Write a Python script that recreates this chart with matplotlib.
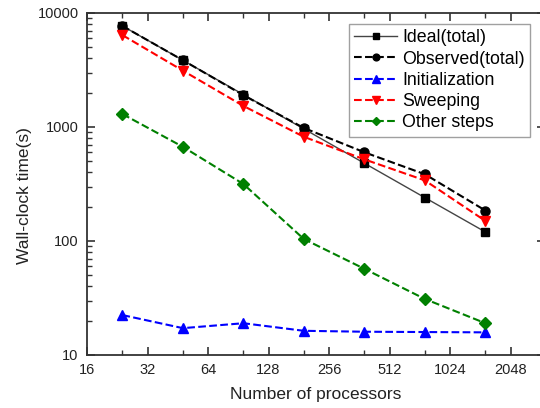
import numpy as np
import matplotlib
matplotlib.use("Agg")
import matplotlib.pyplot as plt
from matplotlib.ticker import FixedLocator, NullFormatter, LogLocator

plt.rcParams['font.family'] = ['Liberation Sans', 'DejaVu Sans']

# данные
procs = [24, 48, 96, 192, 384, 768, 1536]
ideal = [7700, 3850, 1925, 962, 481, 240, 120]
observed = [7700, 3850, 1900, 980, 600, 385, 185]
init = [22.4, 17.2, 19.0, 16.3, 16.0, 15.9, 15.8]
sweep = [6400, 3120, 1530, 820, 520, 340, 150]
other = [1300, 670, 316, 104, 57, 31, 19]

xticks = [16, 32, 64, 128, 256, 512, 1024, 2048]

fig = plt.figure(figsize=(5.4, 4.08), dpi=100)
ax = fig.add_axes([87/540, 53/408, 458/540, 342/408])

ax.plot(procs, ideal, '-', color='#444444', lw=1.0, marker='s', ms=6,
        mfc='black', mec='black', label='Ideal(total)')
ax.plot(procs, observed, '--', color='black', lw=1.5, marker='o', ms=6.5,
        mfc='black', mec='black', label='Observed(total)')
ax.plot(procs, init, '--', color='blue', lw=1.5, marker='^', ms=7,
        mfc='blue', mec='blue', label='Initialization')
ax.plot(procs, sweep, '--', color='red', lw=1.5, marker='v', ms=7,
        mfc='red', mec='red', label='Sweeping')
ax.plot(procs, other, '--', color='green', lw=1.5, marker='D', ms=6,
        mfc='green', mec='green', label='Other steps')

ax.set_xscale('log', base=2)
ax.set_yscale('log')
ax.set_xlim(16, 16 * 2 ** (458 / 60.5))
ax.set_ylim(10, 10000)

ax.xaxis.set_major_locator(FixedLocator(xticks))
ax.set_xticklabels([str(t) for t in xticks])
ax.xaxis.set_minor_locator(FixedLocator([1.5 * t for t in xticks]))
ax.xaxis.set_minor_formatter(NullFormatter())
ax.yaxis.set_major_locator(FixedLocator([10, 100, 1000, 10000]))
ax.set_yticklabels(['10', '100', '1000', '10000'])
ax.yaxis.set_minor_locator(LogLocator(base=10, subs=np.arange(2, 10)))
ax.yaxis.set_minor_formatter(NullFormatter())

ax.tick_params(which='both', direction='in', top=True, right=True,
               colors='#333333', labelsize=10.5, labelcolor='#222222')
ax.tick_params(which='major', length=6, width=1.2, pad=6)
ax.tick_params(which='minor', length=3.5, width=1.0)
for s in ax.spines.values():
    s.set_color('#333333')
    s.set_linewidth(1.3)

ax.set_xlabel('Number of processors', fontsize=12.5, color='#222222', labelpad=7)
ax.set_ylabel('Wall-clock time(s)', fontsize=12.5, color='#222222')
ax.yaxis.set_label_coords(-0.12, 0.465)

leg = ax.legend(loc='upper left', bbox_to_anchor=(349/540, 1 - 24/408),
                bbox_transform=fig.transFigure, borderaxespad=0,
                fontsize=12.8, frameon=True,
                fancybox=False, edgecolor='#888888', handlelength=2.4,
                handletextpad=0.3, labelspacing=0.24, borderpad=0.3,
                markerscale=0.75)
leg.get_frame().set_linewidth(1.0)

fig.savefig('out.png', dpi=100)
